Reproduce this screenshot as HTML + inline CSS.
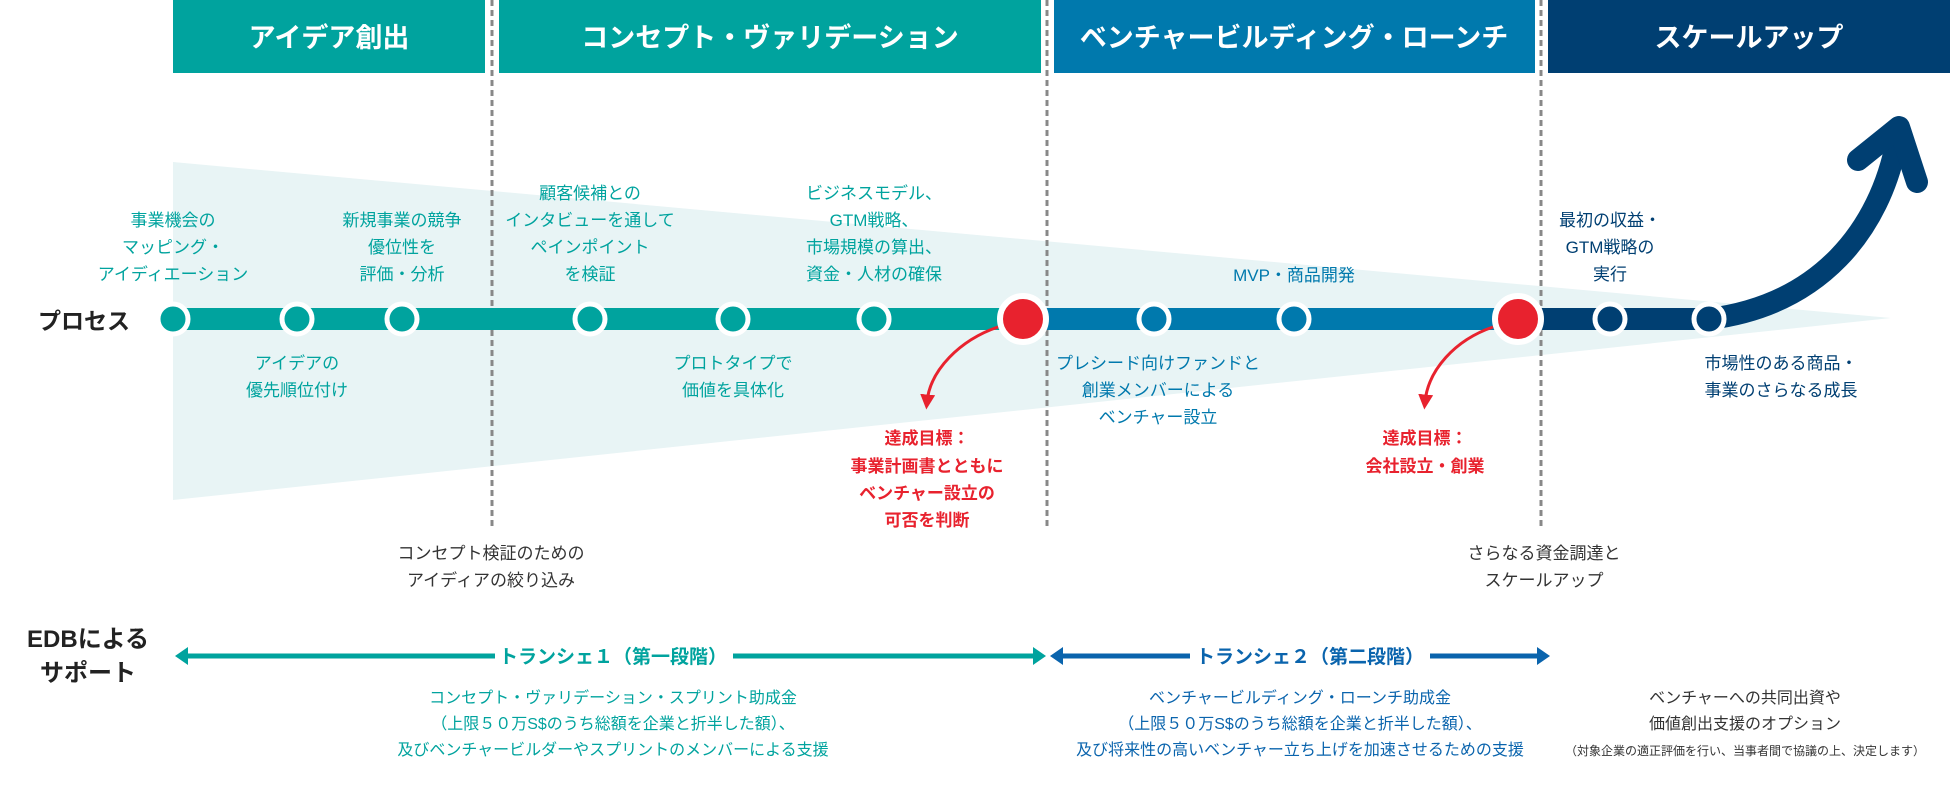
<!DOCTYPE html>
<html><head><meta charset="utf-8"><style>
html,body{margin:0;padding:0;background:#fff;}
svg{display:block;font-family:"Liberation Sans","Noto Sans CJK JP",sans-serif;}
</style></head><body>
<svg width="1950" height="789" viewBox="0 0 1950 789" xmlns="http://www.w3.org/2000/svg">
<defs>
<marker id="ra" viewBox="0 0 10 10" refX="5" refY="5" markerWidth="5" markerHeight="5" orient="auto"><path d="M0,0 L10,5 L0,10 z" fill="#e8222e"/></marker>
</defs>
<!-- light triangle -->
<polygon points="173,162 1891,318 173,500" fill="#e8f4f5"/>
<!-- headers -->
<rect x="173" y="0" width="312" height="73" fill="#00a39e"/>
<rect x="499" y="0" width="542" height="73" fill="#00a39e"/>
<rect x="1054" y="0" width="481" height="73" fill="#0079ad"/>
<rect x="1548" y="0" width="402" height="73" fill="#003f72"/>
<g fill="#fff" font-weight="bold" font-size="27" text-anchor="middle">
<text x="329" y="47">アイデア創出</text>
<text x="770" y="47">コンセプト・ヴァリデーション</text>
<text x="1294" y="47">ベンチャービルディング・ローンチ</text>
<text x="1749" y="47">スケールアップ</text>
</g>
<!-- dashed lines -->
<g stroke="#888" stroke-width="3" stroke-dasharray="6,4">
<line x1="492" y1="0" x2="492" y2="530"/>
<line x1="1047" y1="0" x2="1047" y2="530"/>
<line x1="1541" y1="0" x2="1541" y2="530"/>
</g>
<!-- process line -->
<rect x="173" y="308" width="850" height="22" fill="#00a39e"/>
<rect x="1023" y="308" width="495" height="22" fill="#0079ad"/>
<rect x="1518" y="308" width="191" height="22" fill="#003f72"/>
<path d="M1709,319 C1820,305 1880,230 1897,140" fill="none" stroke="#003f72" stroke-width="22"/>
<polyline points="1858,160 1899,127 1917,182" fill="none" stroke="#003f72" stroke-width="22" stroke-linecap="round" stroke-linejoin="round"/>
<!-- nodes -->
<g stroke="#fff" stroke-width="5">
<circle cx="173" cy="319" r="15" fill="#00a39e"/>
<circle cx="297" cy="319" r="15" fill="#00a39e"/>
<circle cx="402" cy="319" r="15" fill="#00a39e"/>
<circle cx="590" cy="319" r="15" fill="#00a39e"/>
<circle cx="733" cy="319" r="15" fill="#00a39e"/>
<circle cx="874" cy="319" r="15" fill="#00a39e"/>
<circle cx="1154" cy="319" r="15" fill="#0079ad"/>
<circle cx="1294" cy="319" r="15" fill="#0079ad"/>
<circle cx="1610" cy="319" r="15" fill="#003f72"/>
<circle cx="1709" cy="319" r="15" fill="#003f72"/>
<circle cx="1023" cy="319" r="23" fill="#e8222e" stroke-width="6"/>
<circle cx="1518" cy="319" r="23" fill="#e8222e" stroke-width="6"/>
</g>
<!-- red arrows -->
<path d="M998,327 C960,340 930,370 927,402" fill="none" stroke="#e8222e" stroke-width="3" marker-end="url(#ra)"/>
<path d="M1493,327 C1455,340 1428,370 1425,402" fill="none" stroke="#e8222e" stroke-width="3" marker-end="url(#ra)"/>
<text x="38" y="329" font-size="23" font-weight="bold" fill="#222">プロセス</text>
<!-- teal labels -->
<g fill="#00a39e" font-size="17" text-anchor="middle">
<text x="173" y="226">事業機会の</text><text x="173" y="253">マッピング・</text><text x="173" y="280">アイディエーション</text>
<text x="402" y="226">新規事業の競争</text><text x="402" y="253">優位性を</text><text x="402" y="280">評価・分析</text>
<text x="590" y="199">顧客候補との</text><text x="590" y="226">インタビューを通して</text><text x="590" y="253">ペインポイント</text><text x="590" y="280">を検証</text>
<text x="874" y="199">ビジネスモデル、</text><text x="874" y="226">GTM戦略、</text><text x="874" y="253">市場規模の算出、</text><text x="874" y="280">資金・人材の確保</text>
<text x="297" y="369">アイデアの</text><text x="297" y="396">優先順位付け</text>
<text x="733" y="369">プロトタイプで</text><text x="733" y="396">価値を具体化</text>
</g>
<g fill="#0079ad" font-size="17" text-anchor="middle">
<text x="1294" y="281">MVP・商品開発</text>
<text x="1158" y="369">プレシード向けファンドと</text><text x="1158" y="396">創業メンバーによる</text><text x="1158" y="423">ベンチャー設立</text>
</g>
<g fill="#003f72" font-size="17" text-anchor="middle">
<text x="1610" y="226">最初の収益・</text><text x="1610" y="253">GTM戦略の</text><text x="1610" y="280">実行</text>
<text x="1781" y="369">市場性のある商品・</text><text x="1781" y="396">事業のさらなる成長</text>
</g>
<g fill="#e8222e" font-size="17" font-weight="bold" text-anchor="middle">
<text x="927" y="444">達成目標：</text><text x="927" y="472">事業計画書とともに</text><text x="927" y="499">ベンチャー設立の</text><text x="927" y="526">可否を判断</text>
<text x="1425" y="444">達成目標：</text><text x="1425" y="472">会社設立・創業</text>
</g>
<g fill="#333" font-size="17" text-anchor="middle">
<text x="491" y="559">コンセプト検証のための</text><text x="491" y="586">アイディアの絞り込み</text>
<text x="1544" y="559">さらなる資金調達と</text><text x="1544" y="586">スケールアップ</text>
</g>
<!-- EDB support -->
<g fill="#222" font-size="24" font-weight="bold" text-anchor="middle">
<text x="88" y="647">EDBによる</text><text x="88" y="681">サポート</text>
</g>
<line x1="185" y1="656" x2="1038" y2="656" stroke="#00a39e" stroke-width="5"/>
<polygon points="175,656 188,647 188,665" fill="#00a39e"/>
<polygon points="1046,656 1033,647 1033,665" fill="#00a39e"/>
<line x1="1058" y1="656" x2="1540" y2="656" stroke="#0a64ad" stroke-width="5"/>
<polygon points="1050,656 1063,647 1063,665" fill="#0a64ad"/>
<polygon points="1550,656 1537,647 1537,665" fill="#0a64ad"/>
<rect x="495" y="640" width="238" height="32" fill="#fff"/>
<rect x="1190" y="640" width="240" height="32" fill="#fff"/>
<text x="613" y="663" font-size="19" font-weight="bold" fill="#00a39e" text-anchor="middle">トランシェ１（第一段階）</text>
<text x="1310" y="663" font-size="19" font-weight="bold" fill="#0a64ad" text-anchor="middle">トランシェ２（第二段階）</text>
<g fill="#00a39e" font-size="16" text-anchor="middle">
<text x="613" y="703">コンセプト・ヴァリデーション・スプリント助成金</text>
<text x="613" y="729">（上限５０万S$のうち総額を企業と折半した額）、</text>
<text x="613" y="755">及びベンチャービルダーやスプリントのメンバーによる支援</text>
</g>
<g fill="#0a64ad" font-size="16" text-anchor="middle">
<text x="1300" y="703">ベンチャービルディング・ローンチ助成金</text>
<text x="1300" y="729">（上限５０万S$のうち総額を企業と折半した額）、</text>
<text x="1300" y="755">及び将来性の高いベンチャー立ち上げを加速させるための支援</text>
</g>
<g fill="#333" text-anchor="middle">
<text x="1745" y="703" font-size="16">ベンチャーへの共同出資や</text>
<text x="1745" y="729" font-size="16">価値創出支援のオプション</text>
<text x="1745" y="755" font-size="12">（対象企業の適正評価を行い、当事者間で協議の上、決定します）</text>
</g>
</svg>
</body></html>
